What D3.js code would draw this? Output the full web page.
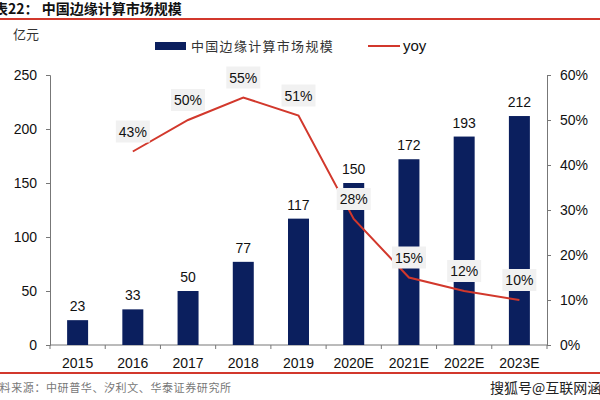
<!DOCTYPE html>
<html>
<head>
<meta charset="utf-8">
<script src="https://cdn.jsdelivr.net/npm/d3@7"></script>
<style>
  body { margin: 0; background: #fff; }
  text { font-family: "Liberation Sans", Arial, sans-serif; }
  .cjk { font-family: "Noto Sans CJK SC", sans-serif; }
</style>
</head>
<body>
<div id="chart"></div>
<script>
// data
var years = ["2015", "2016", "2017", "2018", "2019", "2020E", "2021E", "2022E", "2023E"];
var market = [23, 33, 50, 77, 117, 150, 172, 193, 212];
var yoyYears = ["2016", "2017", "2018", "2019", "2020E", "2021E", "2022E", "2023E"];
var yoy = [0.43, 0.50, 0.55, 0.51, 0.28, 0.15, 0.12, 0.10];
var leftTicks = [0, 50, 100, 150, 200, 250];
var rightTicks = [0, 0.1, 0.2, 0.3, 0.4, 0.5, 0.6];

var W = 600, H = 400;
var margin = { top: 75, right: 53, bottom: 55, left: 50 },
    width = W - margin.left - margin.right,
    height = H - margin.top - margin.bottom;

var navy = "#0b1f5e", red = "#d2382c";

var root = d3.select("#chart").append("svg")
    .attr("width", W)
    .attr("height", H);

// title + red rules
root.append("text").attr("class", "cjk")
    .attr("x", -6).attr("y", 14)
    .attr("font-size", 14).attr("font-weight", "bold").attr("fill", "#111")
    .text("表22：  中国边缘计算市场规模");
root.append("rect").attr("x", 0).attr("y", 18).attr("width", W).attr("height", 2).attr("fill", red);
root.append("rect").attr("x", 0).attr("y", 372).attr("width", W).attr("height", 2).attr("fill", red);

root.append("text").attr("class", "cjk")
    .attr("x", -12).attr("y", 392)
    .attr("font-size", 11).attr("fill", "#777")
    .attr("letter-spacing", 0.6)
    .text("资料来源：中研普华、汐利文、华泰证券研究所");
root.append("text").attr("class", "cjk")
    .attr("x", 490).attr("y", 393)
    .attr("font-size", 14).attr("fill", "#222")
    .text("搜狐号@互联网涵音");

root.append("text").attr("class", "cjk")
    .attr("x", 13).attr("y", 39)
    .attr("font-size", 13).attr("fill", "#333")
    .text("亿元");

// legend
root.append("rect").attr("x", 155).attr("y", 42).attr("width", 31).attr("height", 8).attr("fill", navy);
root.append("text").attr("class", "cjk")
    .attr("x", 191).attr("y", 51)
    .attr("font-size", 13).attr("fill", "#333")
    .attr("letter-spacing", 1.3)
    .text("中国边缘计算市场规模");
root.append("line").attr("x1", 368).attr("x2", 400).attr("y1", 46).attr("y2", 46)
    .attr("stroke", red).attr("stroke-width", 2);
root.append("text")
    .attr("x", 403).attr("y", 51)
    .attr("font-size", 15).attr("fill", "#111")
    .text("yoy");

var svg = root.append("g")
    .attr("transform", "translate(" + margin.left + "," + margin.top + ")");

var x = d3.scaleBand().domain(years).range([0, width]).paddingInner(0.62).paddingOuter(0.31);
var y = d3.scaleLinear().domain([0, 250]).range([height, 0]);
var y2 = d3.scaleLinear().domain([0, 0.6]).range([height, 0]);

// axes
var xAxis = svg.append("g").attr("transform", "translate(0," + height + ")");
xAxis.append("line").attr("x1", 0).attr("x2", width).attr("stroke", "#777");
var bounds = d3.range(years.length + 1).map(function(i) { return i * width / years.length; });
xAxis.selectAll(".tk").data(bounds).enter().append("line")
    .attr("x1", function(d) { return d; }).attr("x2", function(d) { return d; })
    .attr("y1", 0).attr("y2", 4).attr("stroke", "#777");
xAxis.selectAll(".lb").data(years).enter().append("text")
    .attr("x", function(d) { return x(d) + x.bandwidth() / 2; })
    .attr("y", 23).attr("text-anchor", "middle")
    .attr("font-size", 14).attr("fill", "#111")
    .text(function(d) { return d; });

var yAxis = svg.append("g")
    .call(d3.axisLeft(y).tickValues(leftTicks).tickSize(4).tickPadding(9));
var y2Axis = svg.append("g").attr("transform", "translate(" + width + ",0)")
    .call(d3.axisRight(y2).tickValues(rightTicks).tickSize(4).tickPadding(9).tickFormat(d3.format(".0%")));
[yAxis, y2Axis].forEach(function(a) {
    a.select(".domain").attr("stroke", "#777");
    a.selectAll(".tick line").attr("stroke", "#777");
    a.selectAll(".tick text").attr("font-size", 14).attr("fill", "#111")
        .style("font-family", "Liberation Sans, Arial, sans-serif");
});

// bars
svg.selectAll(".bar").data(market).enter().append("rect")
    .attr("x", function(d, i) { return x(years[i]); })
    .attr("y", function(d) { return y(d); })
    .attr("width", x.bandwidth())
    .attr("height", function(d) { return height - y(d); })
    .attr("fill", navy);

svg.selectAll(".blab").data(market).enter().append("text")
    .attr("x", function(d, i) { return x(years[i]) + x.bandwidth() / 2; })
    .attr("y", function(d) { return y(d) - 9; })
    .attr("text-anchor", "middle")
    .attr("font-size", 14).attr("fill", "#111")
    .text(function(d) { return d; });

// yoy line
var cx = function(d, i) { return x(yoyYears[i]) + x.bandwidth() / 2; };
var line = d3.line()
    .x(cx)
    .y(function(d) { return y2(d); });
svg.append("path").datum(yoy)
    .attr("d", line)
    .attr("fill", "none")
    .attr("stroke", red)
    .attr("stroke-width", 2);

var lab = svg.selectAll(".ylab").data(yoy).enter().append("g")
    .attr("transform", function(d, i) { return "translate(" + cx(d, i) + "," + (y2(d) - 20) + ")"; });
lab.append("rect")
    .attr("x", -17).attr("y", -11).attr("width", 34).attr("height", 22)
    .attr("fill", "#f1f1f1");
lab.append("text")
    .attr("text-anchor", "middle").attr("dy", "0.36em")
    .attr("font-size", 14).attr("fill", "#111")
    .text(function(d) { return Math.round(d * 100) + "%"; });
</script>
</body>
</html>
